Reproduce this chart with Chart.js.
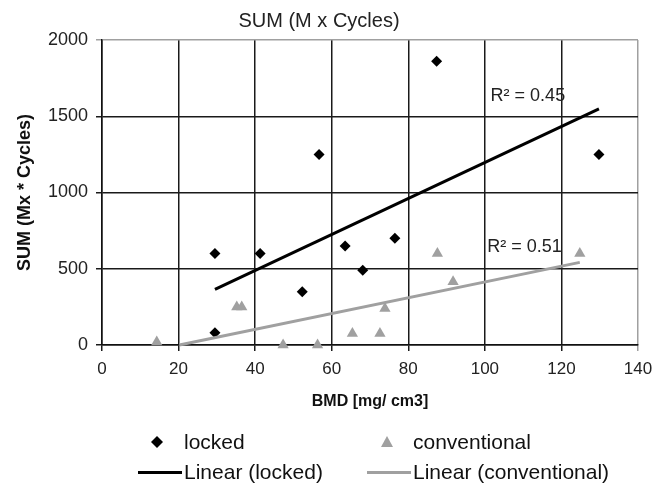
<!DOCTYPE html>
<html><head><meta charset="utf-8">
<script src="https://cdn.jsdelivr.net/npm/chart.js@4/dist/chart.umd.min.js"></script>
<style>
html,body{margin:0;padding:0;background:#fff;}
#wrap{position:relative;width:666px;height:486px;font-family:"Liberation Sans",Arial,sans-serif;}
canvas{display:block;}
.lg{position:absolute;font-size:21px;color:#111;line-height:24px;white-space:nowrap;}
.mk{position:absolute;line-height:0;}
.mk svg{display:block;}
</style></head><body>
<div id="wrap"><canvas id="c" width="666" height="486"></canvas>
<div id="legend"></div></div>
<script>
// ---- data ----
const lockedBMD = [29.5, 29.5, 41.3, 52.3, 56.7, 63.5, 68.1, 76.5, 87.4, 129.8];
const lockedSUM = [600, 80, 600, 350, 1250, 650, 490, 700, 1860, 1250];
const convBMD = [14.3, 35.2, 36.5, 47.3, 56.3, 65.4, 72.6, 73.9, 87.6, 91.7, 124.8];
const convSUM = [20, 250, 250, 0, 0, 75, 75, 240, 600, 415, 600];
const lockedTrendBMD = [29.5, 129.8];
const lockedTrendSUM = [365, 1548];
const convTrendBMD = [20.2, 124.8];
const convTrendSUM = [0, 542];
const r2Labels = ['R\u00B2 = 0.45', 'R\u00B2 = 0.51'];
const r2BMD = [101.5, 100.6];
const r2SUM = [1633, 645];
const xTicks = [0, 20, 40, 60, 80, 100, 120, 140];
const yTicks = [0, 500, 1000, 1500, 2000];
const seriesNames = ['locked', 'conventional', 'Linear (locked)', 'Linear (conventional)'];

const FONT = '"Liberation Sans", Arial, sans-serif';
const GRAY = '#a0a0a0';
const pts = (xs, ys) => xs.map((v, i) => ({x: v, y: ys[i]}));

const r2Plugin = {
  id: 'r2',
  afterDatasetsDraw(chart) {
    const {ctx, scales: {x, y}} = chart;
    ctx.save();
    ctx.font = '18px ' + FONT;
    ctx.fillStyle = '#222';
    ctx.textBaseline = 'middle';
    ctx.textAlign = 'left';
    r2Labels.forEach((t, i) => ctx.fillText(t, x.getPixelForValue(r2BMD[i]), y.getPixelForValue(r2SUM[i])));
    ctx.restore();
  }
};

new Chart(document.getElementById('c'), {
  type: 'scatter',
  data: {
    datasets: [
      {label: seriesNames[0], data: pts(lockedBMD, lockedSUM), pointStyle: 'rectRot', pointRadius: 5.5,
       backgroundColor: '#000', borderColor: '#000', borderWidth: 0, clip: false, order: 3},
      {label: seriesNames[1], data: pts(convBMD, convSUM), pointStyle: 'triangle', pointRadius: 6.5,
       backgroundColor: GRAY, borderColor: GRAY, borderWidth: 0, clip: false, order: 4},
      {label: seriesNames[2], type: 'line', data: pts(lockedTrendBMD, lockedTrendSUM), showLine: true,
       borderColor: '#000', borderWidth: 3, pointRadius: 0, fill: false, clip: false, order: 1},
      {label: seriesNames[3], type: 'line', data: pts(convTrendBMD, convTrendSUM), showLine: true,
       borderColor: GRAY, borderWidth: 3, pointRadius: 0, fill: false, clip: false, order: 2}
    ]
  },
  options: {
    responsive: false,
    animation: false,
    events: [],
    layout: {padding: {left: 0, right: 28, top: 0, bottom: 61}},
    plugins: {
      legend: {display: false},
      tooltip: {enabled: false},
      title: {display: true, text: 'SUM (M x Cycles)', color: '#222',
        font: {family: FONT, size: 20, weight: 'normal'}, padding: {top: 9, bottom: 7}}
    },
    scales: {
      x: {
        type: 'linear', min: 0, max: 140,
        afterBuildTicks: s => { s.ticks = xTicks.map(v => ({value: v})); },
        afterFit: s => { s.height = 80; },
        border: {color: '#111', width: 1.5},
        grid: {color: c => (c.tick && c.tick.value === 140) ? GRAY : '#1a1a1a', lineWidth: 1.5, tickLength: 6, drawTicks: true},
        ticks: {color: '#222', font: {family: FONT, size: 17}, padding: 8, maxRotation: 0, callback: v => String(v)},
        title: {display: true, text: 'BMD [mg/ cm3]', color: '#111', font: {family: FONT, size: 16, weight: 'bold'}, padding: {top: 4, bottom: 14}}
      },
      y: {
        type: 'linear', min: 0, max: 2000,
        afterBuildTicks: s => { s.ticks = yTicks.map(v => ({value: v})); },
        afterFit: s => { s.width = 102; },
        border: {color: '#111', width: 1.5},
        grid: {color: c => (c.tick && c.tick.value === 2000) ? GRAY : '#1a1a1a', lineWidth: 1.5, tickLength: 6},
        ticks: {color: '#222', font: {family: FONT, size: 18}, padding: 8, callback: v => String(v)},
        title: {display: true, text: 'SUM (Mx * Cycles)', color: '#111', font: {family: FONT, size: 18, weight: 'bold'}, padding: {top: 14, bottom: 0}}
      }
    }
  },
  plugins: [r2Plugin]
});

// ---- HTML legend (2 x 2) ----
const leg = document.getElementById('legend');
const svgDiamond = '<svg width="12" height="12"><polygon points="6,0 12,6 6,12 0,6" fill="#000"/></svg>';
const svgTri = '<svg width="12" height="11"><polygon points="6,0 12,11 0,11" fill="' + GRAY + '"/></svg>';
const svgLine = c => '<svg width="44" height="3"><rect x="0" y="0" width="44" height="3" fill="' + c + '"/></svg>';
const items = [
  {name: seriesNames[0], mk: svgDiamond, mx: 151, my: 436, tx: 184, ty: 430},
  {name: seriesNames[1], mk: svgTri, mx: 381, my: 436, tx: 413, ty: 430},
  {name: seriesNames[2], mk: svgLine('#000'), mx: 138, my: 471, tx: 184, ty: 460},
  {name: seriesNames[3], mk: svgLine(GRAY), mx: 367, my: 471, tx: 413, ty: 460}
];
items.forEach(it => {
  const m = document.createElement('div'); m.className = 'mk';
  m.style.left = it.mx + 'px'; m.style.top = it.my + 'px'; m.innerHTML = it.mk; leg.appendChild(m);
  const t = document.createElement('div'); t.className = 'lg';
  t.style.left = it.tx + 'px'; t.style.top = it.ty + 'px'; t.textContent = it.name; leg.appendChild(t);
});
</script>
</body></html>
